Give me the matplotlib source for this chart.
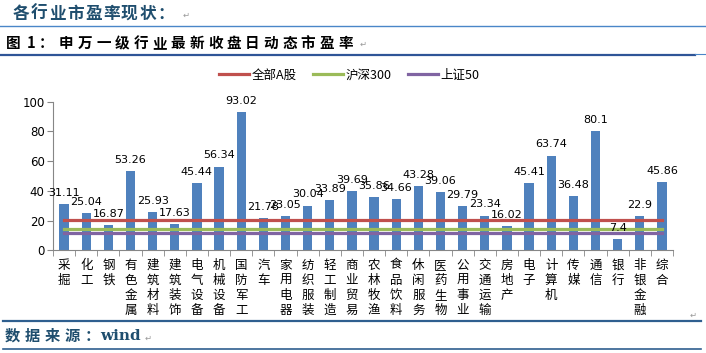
import matplotlib
matplotlib.use('Agg')
from matplotlib import pyplot as plt
from matplotlib.lines import Line2D

plt.rcParams['font.family'] = ['Noto Sans CJK SC', 'DejaVu Sans']
plt.rcParams['axes.unicode_minus'] = False

# 申万一级行业
industries = ['采掘', '化工', '钢铁', '有色金属', '建筑材料', '建筑装饰', '电气设备',
              '机械设备', '国防军工', '汽车', '家用电器', '纺织服装', '轻工制造', '商业贸易',
              '农林牧渔', '食品饮料', '休闲服务', '医药生物', '公用事业', '交通运输', '房地产',
              '电子', '计算机', '传媒', '通信', '银行', '非银金融', '综合']
pe = [31.11, 25.04, 16.87, 53.26, 25.93, 17.63, 45.44, 56.34, 93.02, 21.78, 23.05,
      30.04, 33.89, 39.69, 35.86, 34.66, 43.28, 39.06, 29.79, 23.34, 16.02, 45.41,
      63.74, 36.48, 80.1, 7.4, 22.9, 45.86]
# 指数市盈率
index_names = ['全部A股', '沪深300', '上证50']
index_pe = [20.2, 14.1, 11.6]
index_colors = ['#C0504D', '#9BBB59', '#8064A2']

W, H = 706, 353
fig = plt.figure(figsize=(W / 100, H / 100), dpi=100)
fig.patch.set_facecolor('white')

def fx(px):
    return px / W

def fy(py):
    return 1 - py / H

def spaced(x0, y, s, pitch, **kw):
    # 逐字排版，模拟 Word 里的字间距
    for i, ch in enumerate(s):
        fig.text(fx(x0 + i * pitch), fy(y), ch, va='center', ha='left', **kw)

head_color = '#1F4E6E'
mark = dict(fontsize=6, color='#999999', va='center', family='DejaVu Sans')

# 页面上的标题和分隔线
spaced(13, 14, '各行业市盈率现状：', 18, fontsize=12, fontweight='bold', color=head_color)
fig.text(fx(183), fy(15), '↵', **mark)
fig.add_artist(Line2D([0, 1], [fy(26), fy(26)], color='#4A86C8', lw=1.0))

title_kw = dict(fontsize=10.5, fontweight='bold', color='black')
fig.text(fx(6), fy(43), '图', va='center', ha='left', **title_kw)
fig.text(fx(27), fy(43), '1', va='center', ha='left', **title_kw)
fig.text(fx(39), fy(43), '：', va='center', ha='left', **title_kw)
spaced(59, 43, '申万一级行业最新收盘日动态市盈率', 18.6, **title_kw)
fig.text(fx(360), fy(44), '↵', **mark)
fig.add_artist(Line2D([0, fx(695)], [fy(55), fy(55)], color='#2F5597', lw=1.6))
fig.add_artist(Line2D([fx(695), 1], [fy(54), fy(54)], color='#4A86C8', lw=0.8))

fig.add_artist(Line2D([fx(3), fx(701)], [fy(321), fy(321)], color='#2F5F8F', lw=1.6))
spaced(5, 336, '数据来源：', 19.8, fontsize=11, fontweight='bold', color=head_color)
fig.text(fx(100), fy(336), 'wind', fontsize=11, fontweight='bold', color=head_color,
         va='center', ha='left', family='DejaVu Serif')
fig.text(fx(145), fy(338), '↵', **mark)
fig.text(fx(690), fy(315), '↵', **mark)
fig.add_artist(Line2D([fx(3), fx(701)], [fy(349), fy(349)], color='#2F5F8F', lw=1.2))

# 图表区
ax = fig.add_axes([fx(53), fy(250.3), fx(673) - fx(53), fy(101.7) - fy(250.3)])
x = list(range(len(industries)))
ax.bar(x, pe, width=0.42, color='#4F81BD', zorder=2)
for name, v, c in zip(index_names, index_pe, index_colors):
    ax.plot(x, [v] * len(x), color=c, lw=2.3, label=name, zorder=3)

for xi, v in zip(x, pe):
    ax.annotate(str(v), (xi, v), xytext=(0, 4.5), textcoords='offset points',
                ha='center', va='bottom', fontsize=8, family='DejaVu Sans',
                annotation_clip=False, zorder=4)

ax.set_xlim(-0.5, len(x) - 0.5)
ax.set_ylim(0, 100)
ax.set_yticks(range(0, 101, 20))
ax.set_yticklabels([str(t) for t in range(0, 101, 20)], family='DejaVu Sans')
ax.tick_params(axis='y', labelsize=8.5, length=4, color='#868686', pad=2)
ax.set_xticks(x)
ax.set_xticklabels(['\n'.join(n) for n in industries], fontsize=9, linespacing=1.22,
                   va='top')
ax.tick_params(axis='x', which='major', length=0, pad=6)
ax.set_xticks([i - 0.5 for i in range(len(x) + 1)], minor=True)
ax.tick_params(axis='x', which='minor', length=4, color='#868686')
for s in ['top', 'right']:
    ax.spines[s].set_visible(False)
ax.spines['left'].set_color('#868686')
ax.spines['bottom'].set_color('#868686')

fig.legend(loc='center', bbox_to_anchor=(fx(349), fy(75)), ncol=3, frameon=False,
           fontsize=9, handlelength=2.4, columnspacing=1.3, handletextpad=0.2)

fig.savefig('out.png', dpi=100)
